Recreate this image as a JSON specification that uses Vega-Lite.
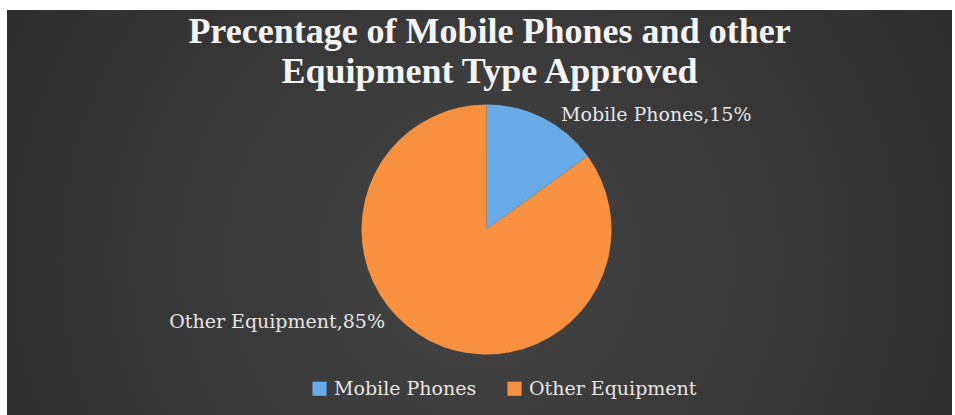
{
  "$schema": "https://vega.github.io/schema/vega-lite/v6.json",
  "width": 945,
  "height": 405,
  "autosize": {"type": "none"},
  "padding": {"top": 10, "left": 7, "right": 3, "bottom": 0},
  "background": "white",
  "config": {
    "view": {"stroke": null, "fill": "#303030"}
  },
  "title": {
    "text": ["Precentage of Mobile Phones and other", "Equipment Type Approved"],
    "font": "Liberation Serif",
    "fontSize": 36,
    "fontWeight": "bold",
    "color": "#f4f4f4",
    "lineHeight": 40,
    "anchor": "middle",
    "offset": -81,
    "dx": 10
  },
  "data": {
    "values": [
      {"category": "Mobile Phones", "percent": 15, "label": "Mobile Phones,15%"},
      {"category": "Other Equipment", "percent": 85, "label": "Other Equipment,85%"}
    ]
  },
  "layer": [
    {
      "data": {"values": [{"bg": "background"}]},
      "mark": {
        "type": "rect",
        "color": {
          "gradient": "radial",
          "x1": 0.5, "y1": 0.55, "r1": 0,
          "x2": 0.5, "y2": 0.55, "r2": 0.75,
          "stops": [
            {"offset": 0, "color": "#444444"},
            {"offset": 1, "color": "#262626"}
          ]
        }
      },
      "encoding": {}
    },
    {
      "mark": {"type": "arc", "outerRadius": 125, "xOffset": 7, "yOffset": 17, "strokeWidth": 0},
      "encoding": {
        "theta": {"field": "percent", "type": "quantitative", "stack": true},
        "order": {"field": "percent", "type": "quantitative", "sort": "ascending"},
        "color": {
          "field": "category",
          "type": "nominal",
          "scale": {"domain": ["Mobile Phones", "Other Equipment"], "range": ["#68abe6", "#f7913f"]},
          "legend": {
            "title": null,
            "orient": "none",
            "legendX": 303,
            "legendY": 369,
            "direction": "horizontal",
            "symbolType": "square",
            "symbolSize": 200,
            "symbolStrokeWidth": 0,
            "labelFont": "DejaVu Serif",
            "labelFontSize": 19,
            "labelColor": "#e6e6e6",
            "labelOffset": 5,
            "columnPadding": 28,
            "labelLimit": 300
          }
        }
      }
    },
    {
      "mark": {
        "type": "text",
        "radius": 140,
        "xOffset": 7,
        "yOffset": 17,
        "font": "DejaVu Serif",
        "fontSize": 19,
        "color": "#e6e6e6",
        "baseline": "middle",
        "align": {"expr": "datum.category === 'Mobile Phones' ? 'left' : 'right'"},
        "dx": {"expr": "datum.category === 'Mobile Phones' ? 11 : -38"},
        "dy": {"expr": "datum.category === 'Mobile Phones' ? 10 : -32"}
      },
      "encoding": {
        "theta": {"field": "percent", "type": "quantitative", "stack": true},
        "order": {"field": "percent", "type": "quantitative", "sort": "ascending"},
        "text": {"field": "label", "type": "nominal"}
      }
    }
  ]
}
